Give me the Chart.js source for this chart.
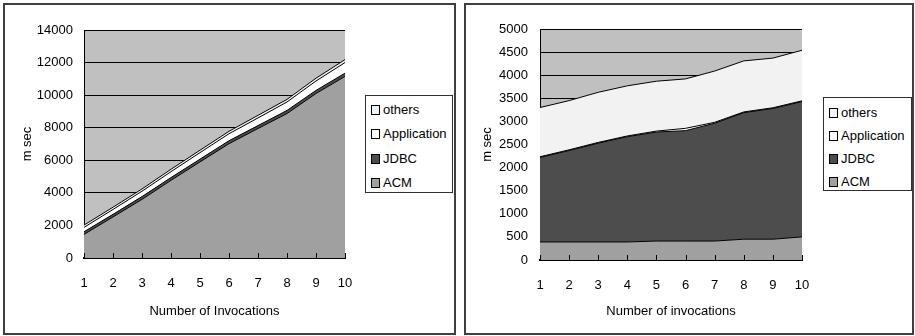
<!DOCTYPE html>
<html>
<head>
<meta charset="utf-8">
<script src="https://cdn.jsdelivr.net/npm/chart.js@4.4.0/dist/chart.umd.min.js"></script>
<style>
body { margin:0; width:915px; height:336px; background:#fff; position:relative; overflow:hidden; font-family:'Liberation Sans', Arial, sans-serif; }
.box { position:absolute; top:3px; height:332px; box-sizing:border-box; border:2px solid #404040; }
#boxL { left:3px; width:453px; }
#boxR { left:464px; width:450px; }
canvas { position:absolute; top:5px; }
.legend { position:absolute; border:1px solid #303030; background:#fff; box-sizing:border-box; }
.legend .item { position:absolute; left:5px; height:16px; line-height:16px; font-size:13px; color:#000; white-space:nowrap; }
.legend .sq { position:absolute; left:0; top:3px; width:9px; height:10px; box-sizing:border-box; border:1px solid #000; }
.legend .txt { position:absolute; left:12px; top:0; }
</style>
</head>
<body>
<div class="box" id="boxL"></div>
<div class="box" id="boxR"></div>
<canvas id="chartL" width="449" height="328" style="left:5px"></canvas>
<canvas id="chartR" width="446" height="328" style="left:466px"></canvas>
<div class="legend" id="legendL" style="left:365px; top:95px; width:88px; height:98px"></div>
<div class="legend" id="legendR" style="left:823px; top:97px; width:89px; height:94px"></div>
<script>
const invocations = ['1', '2', '3', '4', '5', '6', '7', '8', '9', '10'];
const seriesNames = ['ACM', 'JDBC', 'Application', 'others'];
const seriesColors = ['#a0a0a0', '#4d4d4d', '#ffffff', '#f2f2f2'];

// left chart (msec)
const acmLeft    = [1450, 2520, 3600, 4770, 5900, 7020, 7950, 8870, 10100, 11150];
const jdbcLeft   = [160, 160, 170, 170, 170, 180, 180, 190, 190, 200];
const appLeft    = [270, 300, 330, 360, 400, 430, 470, 520, 580, 650];
const othersLeft = [140, 140, 140, 150, 150, 150, 160, 160, 170, 180];
const yTicksLeft = [0, 2000, 4000, 6000, 8000, 10000, 12000, 14000];

// right chart (msec)
const acmRight    = [390, 390, 390, 390, 410, 410, 410, 450, 450, 500];
const jdbcRight   = [1830, 1980, 2140, 2280, 2360, 2390, 2550, 2740, 2830, 2930];
const appRight    = [15, 15, 15, 15, 20, 50, 20, 15, 15, 15];
const othersRight = [1065, 1065, 1085, 1085, 1080, 1070, 1110, 1105, 1075, 1095];
const yTicksRight = [0, 500, 1000, 1500, 2000, 2500, 3000, 3500, 4000, 4500, 5000];

const axisFont = { family: "'Liberation Sans', Arial, sans-serif", size: 13 };

const plotBg = {
    id: 'plotBg',
    beforeDraw(chart) {
        const { ctx, chartArea: a } = chart;
        ctx.save();
        ctx.fillStyle = '#c0c0c0';
        ctx.fillRect(a.left, a.top, a.width, a.height);
        ctx.restore();
    }
};

// small tick marks pointing up from the x axis, drawn over the filled areas
const innerTicks = {
    id: 'innerTicks',
    afterDraw(chart) {
        const { ctx, chartArea: a, scales } = chart;
        ctx.save();
        ctx.strokeStyle = '#000';
        ctx.lineWidth = 1;
        ctx.beginPath();
        invocations.forEach((lbl, i) => {
            const px = Math.round(scales.x.getPixelForValue(i)) + 0.5;
            ctx.moveTo(px, a.bottom);
            ctx.lineTo(px, a.bottom - 5);
        });
        ctx.stroke();
        ctx.restore();
    }
};

function makeChart(canvasId, series, yTicks, xTitle, g) {
    const datasets = series.map((data, i) => ({
        label: seriesNames[i],
        data: data,
        backgroundColor: seriesColors[i],
        borderColor: '#000',
        borderWidth: 1,
        fill: i === 0 ? 'origin' : '-1',
        pointRadius: 0,
        tension: 0
    }));

    return new Chart(document.getElementById(canvasId), {
        type: 'line',
        data: { labels: invocations, datasets: datasets },
        plugins: [plotBg, innerTicks],
        options: {
            responsive: false,
            animation: false,
            layout: { padding: { top: g.top, right: g.right, left: 0, bottom: 0 } },
            plugins: { legend: { display: false }, tooltip: { enabled: false } },
            scales: {
                x: {
                    grid: { display: false, drawTicks: false },
                    border: { display: true, color: '#000', width: 2 },
                    ticks: { padding: 18, maxRotation: 0, font: axisFont, color: '#000' },
                    title: { display: true, text: xTitle, font: axisFont, color: '#000', padding: { top: 0, bottom: 13.5 } },
                    afterFit: s => { s.height = g.xHeight; }
                },
                y: {
                    stacked: true,
                    min: yTicks[0],
                    max: yTicks[yTicks.length - 1],
                    grid: { color: '#000', drawTicks: false },
                    border: { color: '#000', width: 1 },
                    ticks: { stepSize: yTicks[1] - yTicks[0], padding: g.yPad, font: axisFont, color: '#000', callback: v => String(v) },
                    title: { display: true, text: 'm sec', font: axisFont, color: '#000', padding: { top: g.titlePad, bottom: 0 } },
                    afterFit: s => { s.width = g.yWidth; }
                }
            }
        }
    });
}

function buildLegend(chart, legendId, firstRow, step) {
    const box = document.getElementById(legendId);
    const items = chart.data.datasets.slice().reverse();
    box.innerHTML = items.map((ds, i) => `
        <div class="item" style="top:${firstRow + i * step - 8}px">
            <span class="sq" style="background:${ds.backgroundColor}"></span>
            <span class="txt">${ds.label}</span>
        </div>
    `).join('');
}

const chartL = makeChart('chartL', [acmLeft, jdbcLeft, appLeft, othersLeft], yTicksLeft,
    'Number of Invocations', { top: 25, right: 109, yWidth: 79, xHeight: 75, yPad: 11, titlePad: 15 });
const chartR = makeChart('chartR', [acmRight, jdbcRight, appRight, othersRight], yTicksRight,
    'Number of invocations', { top: 24, right: 110, yWidth: 74, xHeight: 73, yPad: 12, titlePad: 14 });

buildLegend(chartL, 'legendL', 14, 24.4);
buildLegend(chartR, 'legendR', 14.7, 23.1);
</script>
</body>
</html>
